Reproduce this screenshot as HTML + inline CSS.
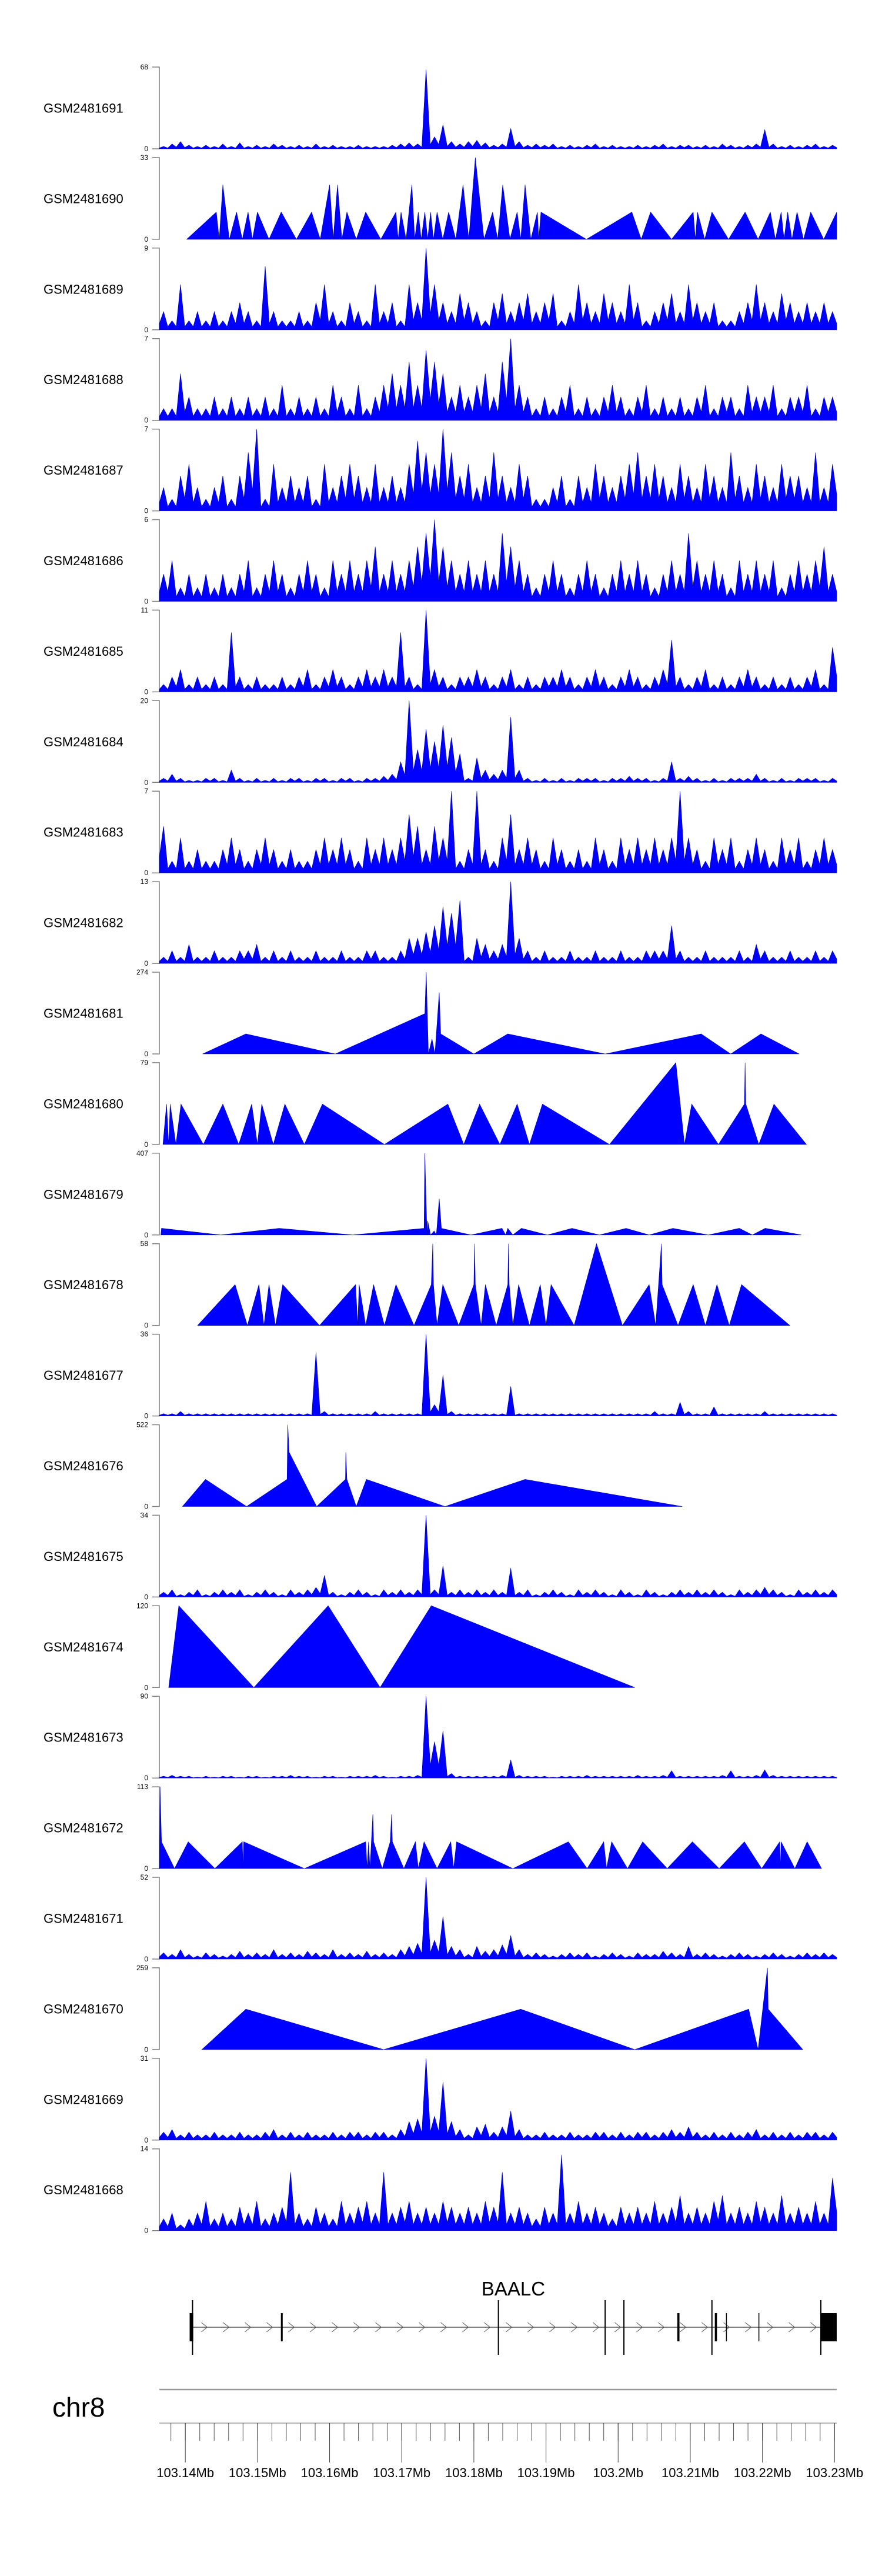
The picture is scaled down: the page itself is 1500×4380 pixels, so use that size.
<!DOCTYPE html>
<html><head><meta charset="utf-8"><title>Coverage tracks BAALC</title>
<style>
html,body{margin:0;padding:0;background:#fff;}
svg{display:block;font-family:"Liberation Sans",Arial,sans-serif;}
</style></head>
<body>
<svg id="chart" width="1500" height="4380" viewBox="0 0 1500 4380" xmlns="http://www.w3.org/2000/svg">
<rect x="0" y="0" width="1500" height="4380" fill="#ffffff"/>
</svg>
<script>
const sampleNames = ["GSM2481691","GSM2481690","GSM2481689","GSM2481688","GSM2481687","GSM2481686","GSM2481685","GSM2481684","GSM2481683","GSM2481682","GSM2481681","GSM2481680","GSM2481679","GSM2481678","GSM2481677","GSM2481676","GSM2481675","GSM2481674","GSM2481673","GSM2481672","GSM2481671","GSM2481670","GSM2481669","GSM2481668"];
const maxValues = [68,33,9,7,7,6,11,20,7,13,274,79,407,58,36,522,34,120,90,113,52,259,31,14];
const regionStartMb = 103.1364;
const regionSpanKb = 93.9;

const t1 = [2,4,6,3,2,3,2,4,2,5,2,3,2,4,3,2,3,2,4,2,3,2,2,3,2,2,2,3,4,5,4,66,10,20,6,4,6,7,5,3,4,17,6,3,4,3,4,2,3,2,3,4,2,3,2,2,3,2,3,4,2,3,3,2,3,2,4,3,2,3,4,16,4,2,3,2,3,4,2,3];
const t2 = [[3.8,0],[7.9,11],[8.3,0],[8.8,22],[9.7,0],[10.7,11],[11.5,0],[12.3,11],[12.9,0],[13.6,11],[15.2,0],[16.9,11],[19.0,0],[21.1,11],[22.3,0],[23.6,22],[24.1,0],[24.7,22],[25.3,0],[26.0,11],[27.3,0],[28.6,11],[30.7,0],[32.8,11],[33.1,0],[33.5,11],[34.2,0],[35.0,22],[35.4,0],[35.9,11],[36.3,0],[36.8,11],[37.2,0],[37.6,11],[38.0,0],[38.5,11],[39.3,0],[40.1,11],[41.1,0],[42.1,22],[42.9,0],[43.8,33],[45.0,0],[46.2,11],[46.9,0],[47.6,22],[48.6,0],[49.6,11],[50.1,0],[50.7,22],[51.5,0],[52.4,11],[52.6,0],[52.9,11],[59.2,0],[65.5,11],[66.8,0],[68.1,11],[71.0,0],[74.0,11],[74.3,0],[74.6,11],[75.6,0],[76.6,11],[78.9,0],[81.2,11],[83.0,0],[84.7,11],[85.4,0],[86.2,11],[86.6,0],[87.1,11],[87.7,0],[88.4,11],[89.3,0],[90.3,11],[92.1,0],[93.9,11],[93.9,0]];
const t3 = [2,1,5,1,2,1,2,1,2,3,2,1,7,2,1,1,2,1,3,5,2,1,3,2,1,5,2,3,1,5,3,9,5,3,2,4,3,2,1,3,4,2,3,4,2,3,4,1,2,5,3,2,4,3,2,5,3,1,2,3,4,2,5,3,2,3,1,1,2,3,5,3,2,4,3,2,3,2,3,2];
const t4 = [1,1,4,2,1,1,2,1,2,1,2,1,2,1,3,1,2,1,2,1,3,2,1,3,1,2,3,4,3,5,3,6,5,4,2,3,2,3,4,2,5,7,3,2,1,2,1,2,3,1,2,1,2,3,2,1,2,3,1,2,1,2,1,2,3,1,2,2,1,3,2,2,3,1,2,2,3,1,2,2];
const t5 = [2,1,3,4,2,1,2,3,1,3,5,7,1,4,2,3,2,3,1,4,2,3,4,3,2,4,2,3,2,4,6,5,4,7,5,3,4,2,3,5,3,2,4,3,1,1,2,3,1,3,2,4,3,2,3,4,5,3,4,3,2,4,3,2,4,3,2,5,3,2,4,3,2,4,3,3,2,5,2,4];
const t6 = [2,3,1,2,1,2,1,2,1,2,3,1,2,3,2,1,2,3,2,1,3,2,3,2,3,4,2,3,2,3,4,5,6,4,3,2,3,2,3,2,5,4,3,2,1,2,3,2,1,2,3,2,1,2,3,2,3,2,1,2,3,2,5,3,2,3,2,1,3,2,3,2,3,1,2,3,2,3,4,2];
const t7 = [1,2,3,1,2,1,2,1,8,2,1,2,1,1,2,1,2,3,1,2,3,2,1,2,3,2,3,2,8,2,1,11,3,2,1,2,2,3,2,1,2,3,1,2,1,2,2,3,2,1,2,3,2,1,2,3,2,1,2,3,7,2,1,2,3,1,2,1,2,3,2,1,2,1,2,1,2,3,1,6];
const t8 = [1,2,1,0.5,0.5,1,1,0.5,3,1,0.5,1,0.5,1,0.5,1,1,0.5,1,1,0.5,1,1,0.5,1,1,1.5,2,5,20,8,13,10,14,11,7,1,6,3,2,3,16,3,1,0.5,1,0.5,1,0.5,1,1,1,0.5,1,1,1.5,1,1,0.5,1,5,1,1.5,1,0.5,1,0.5,1,1,1,2,1,0.5,1,0.5,1,1,1,0.5,1];
const t9 = [4,1,3,1,2,1,1,2,3,2,1,2,3,2,1,2,1,1,2,3,2,3,2,1,3,2,3,2,3,5,4,2,4,3,7,1,2,7,2,1,3,5,2,3,2,1,3,2,1,2,1,3,2,1,3,2,3,2,3,2,3,7,3,2,1,3,2,3,1,2,3,2,1,3,2,3,1,2,3,2];
const t10 = [1,2,1,3,1,1,2,1,1,2,2,3,1,2,1,2,1,1,2,1,1,2,1,1,2,2,1,1,2,4,4,5,6,9,8,10,1,4,3,2,3,13,4,2,1,2,1,1,2,1,1,2,1,1,2,1,1,2,2,2,6,2,1,1,2,1,1,1,2,1,3,2,1,1,2,1,1,2,1,2];
const t11 = [[6.0,0],[12.0,67],[24.4,0],[36.8,135],[37.0,274],[37.3,0],[37.8,50],[38.2,0],[38.8,206],[39.0,67],[43.6,0],[48.3,67],[61.8,0],[75.1,67],[79.2,0],[83.4,67],[88.7,0]];
const t12 = [[0.5,0],[1.0,39],[1.3,0],[1.5,39],[2.3,0],[3.0,39],[6.1,0],[8.8,39],[11.0,0],[12.8,39],[13.6,0],[14.2,39],[15.8,0],[17.4,39],[20.1,0],[22.6,39],[31.2,0],[40.0,39],[42.2,0],[44.4,39],[47.2,0],[49.6,39],[51.3,0],[53.1,39],[62.4,0],[71.6,79],[72.8,0],[73.8,39],[77.5,0],[81.1,39],[81.2,79],[81.3,39],[83.1,0],[85.2,39],[89.7,0]];
const t13 = [[0.2,0],[0.3,33],[8.5,0],[16.6,33],[26.8,0],[36.7,33],[36.8,407],[37.1,0],[37.2,70],[37.6,0],[38.1,20],[38.4,0],[38.8,180],[39.1,33],[43.2,0],[47.5,33],[48.0,0],[48.3,33],[49.0,0],[50.2,33],[53.8,0],[57.2,33],[61.0,0],[64.7,33],[67.9,0],[71.2,33],[76.1,0],[80.4,33],[82.2,0],[84.0,33],[89.0,0]];
const t14 = [[5.3,0],[10.5,29],[12.2,0],[13.8,29],[14.5,0],[15.2,29],[16.1,0],[17.1,29],[22.2,0],[27.2,29],[27.5,0],[27.7,29],[28.6,0],[29.7,29],[31.2,0],[32.8,29],[35.3,0],[37.7,29],[37.9,58],[38.0,29],[38.5,0],[39.3,29],[41.5,0],[43.6,29],[43.7,58],[43.8,29],[44.6,0],[45.2,29],[46.7,0],[48.3,29],[48.4,58],[48.5,29],[49.0,0],[49.8,29],[51.3,0],[52.8,29],[53.6,0],[54.3,29],[57.5,0],[60.6,58],[64.2,0],[67.9,29],[68.8,0],[69.6,58],[69.7,29],[71.9,0],[74.0,29],[75.7,0],[77.3,29],[79.0,0],[80.7,29],[87.4,0]];
const t15 = [1,1,2,1,1,1,1,1,1,1,1,1,1,1,1,1,1,1,28,2,1,1,1,1,1,2,1,1,1,1,1,36,5,18,2,1,1,1,1,1,1,13,1,1,1,1,1,1,1,1,1,1,1,1,1,1,1,1,2,1,1,6,2,1,1,4,1,1,1,1,1,2,1,1,1,1,1,1,1,1];
const t16 = [[3.2,0],[6.4,173],[12.1,0],[17.7,173],[17.8,522],[18.0,346],[21.8,0],[25.8,173],[25.85,346],[26.0,173],[27.3,0],[28.7,173],[39.6,0],[50.7,173],[72.5,0]];
const t17 = [2,3,1,2,3,1,2,3,2,3,1,2,3,2,1,3,2,3,4,9,2,1,2,3,2,1,3,2,3,2,3,34,3,13,2,3,2,3,2,3,2,12,2,3,1,2,3,2,1,3,2,3,2,1,3,2,1,3,2,1,2,3,2,3,2,3,2,1,3,2,3,4,3,2,1,3,2,3,2,3];
const t18 = [[1.3,0],[2.7,120],[13.1,0],[23.4,120],[30.6,0],[37.7,120],[65.9,0]];
const t19 = [2,3,2,2,1,2,1,2,2,1,2,2,1,2,2,3,2,2,1,2,2,1,2,2,2,3,2,1,2,2,3,90,40,52,5,2,2,2,2,2,3,20,3,2,2,2,1,2,2,2,3,2,2,2,2,2,3,2,2,3,8,2,2,2,2,2,3,8,2,2,3,9,3,2,2,2,2,2,2,2];
const t20 = [[0.0,0],[0.1,113],[0.3,37],[2.1,0],[4.0,37],[7.7,0],[11.5,37],[11.6,0],[11.7,37],[20.1,0],[28.6,37],[28.8,0],[29.0,37],[29.2,0],[29.6,75],[29.7,37],[30.9,0],[32.0,37],[32.2,75],[32.3,37],[33.9,0],[35.5,37],[35.9,0],[36.7,37],[38.5,0],[40.4,37],[40.8,0],[41.2,37],[49.0,0],[56.7,37],[59.3,0],[61.6,37],[62.0,0],[62.7,37],[64.9,0],[67.0,37],[70.4,0],[73.9,37],[77.6,0],[81.1,37],[83.5,0],[86.0,37],[86.1,0],[86.2,37],[88.1,0],[89.8,37],[91.8,0]];
const t21 = [4,3,6,3,2,4,3,2,3,5,3,4,3,6,3,4,3,5,4,3,6,3,4,3,5,3,4,3,6,8,10,52,12,27,8,6,3,8,5,6,9,15,6,3,4,3,2,3,4,3,4,2,3,4,3,2,4,3,3,5,4,3,8,3,4,3,2,3,4,3,2,3,4,3,2,3,4,3,4,3];
const t22 = [[5.9,0],[12.0,128],[31.1,0],[50.1,128],[65.9,0],[81.7,128],[83.0,0],[84.3,259],[84.4,128],[89.2,0]];
const t23 = [3,4,2,3,2,2,3,2,2,3,2,2,3,4,2,3,2,3,2,2,3,2,3,3,2,3,3,2,4,7,8,31,9,22,7,4,2,5,6,3,5,11,4,2,2,3,2,2,3,2,2,3,3,2,3,2,3,3,2,3,4,3,5,3,2,3,2,3,2,3,4,2,3,2,3,2,3,3,2,3];
const t24 = [2,3,1,2,3,5,2,3,2,4,3,5,2,3,4,10,3,2,4,3,2,5,3,4,5,3,10,3,4,5,3,4,3,5,4,3,4,3,5,4,10,3,4,3,2,4,3,13,3,5,3,4,3,2,4,3,4,3,5,3,4,6,3,4,3,5,6,3,4,3,5,4,3,6,3,4,3,5,3,9];
const trackSeries = [t1,t2,t3,t4,t5,t6,t7,t8,t9,t10,t11,t12,t13,t14,t15,t16,t17,t18,t19,t20,t21,t22,t23,t24];

const geneName = "BAALC";
const geneStartKb = 4.6;
const geneEndKb = 93.9;
const exonBoxes = [[4.2,4.7],[16.85,17.1],[71.8,72.1],[77.0,77.3],[78.55,78.65],[83.05,83.15],[91.7,93.9]];
const exonTallLines = [4.6,47.0,61.8,64.4,76.6,91.7];
const majorTicksMb = [103.14,103.15,103.16,103.17,103.18,103.19,103.2,103.21,103.22,103.23];
const minorTickStepKb = 2;
const chromName = "chr8";

const NS = "http://www.w3.org/2000/svg";
const svg = document.getElementById('chart');
const PL = 271, PR = 1423, TRACK_H = 139, PITCH = 153.9, FIRST_BOTTOM = 253;
function xs(kb){ return PL + kb / regionSpanKb * (PR - PL); }
function yb(i){ return FIRST_BOTTOM + i * PITCH; }
function ys(i, v){ return yb(i) - v / maxValues[i] * TRACK_H; }
function mk(tag, attrs){ const e = document.createElementNS(NS, tag); for (const k in attrs) e.setAttribute(k, attrs[k]); return e; }

for (let i = 0; i < trackSeries.length; i++) {
  const g = mk('g', {});
  
  
  const b = yb(i), top = b - TRACK_H;
  const lab = mk('text', {x: 74, y: (top + b) / 2 + 8, 'font-size': 22, fill: '#000'});
  lab.textContent = sampleNames[i];
  
  
  g.appendChild(lab);
  const ax = mk('path', {d: `M259 ${top} H${PL} V${b} H259`, fill: 'none', stroke: '#808080', 'stroke-width': 1.5});
  
  
  g.appendChild(ax);
  const tmax = mk('text', {x: 252, y: top + 4, 'font-size': 12, 'text-anchor': 'end', fill: '#000'});
  tmax.textContent = String(maxValues[i]);
  
  
  g.appendChild(tmax);
  const t0 = mk('text', {x: 252, y: b + 4, 'font-size': 12, 'text-anchor': 'end', fill: '#000'});
  t0.textContent = "0";
  
  
  g.appendChild(t0);
  const s = trackSeries[i];
  let pts = [];
  if (Array.isArray(s[0])) {
    pts.push([xs(s[0][0]), b]);
    for (const p of s) pts.push([xs(p[0]), ys(i, p[1])]);
    pts.push([xs(s[s.length - 1][0]), b]);
  } else {
    const n = s.length, w = regionSpanKb / n;
    pts.push([xs(0), b]);
    for (let k = 0; k < n; k++) {
      pts.push([xs(k * w), ys(i, 0.35 * Math.min(s[k], k > 0 ? s[k - 1] : s[k]))]);
      pts.push([xs((k + 0.5) * w), ys(i, s[k])]);
    }
    pts.push([xs(regionSpanKb), ys(i, 0.35 * s[n - 1])]);
    pts.push([xs(regionSpanKb), b]);
  }
  const poly = mk('polygon', {points: pts.map(p => p[0].toFixed(1) + ',' + p[1].toFixed(1)).join(' '), fill: '#0000ff', stroke: '#0000b0', 'stroke-width': 0.6, 'stroke-linejoin': 'miter'});
  
  
  g.appendChild(poly);
  svg.appendChild(g);
}

// gene track
const gg = mk('g', {});


const GY = 3957;
const gl = mk('text', {x: 873, y: 3903, 'font-size': 33, 'text-anchor': 'middle', fill: '#000'});
gl.textContent = geneName;


gg.appendChild(gl);
const il = mk('line', {x1: xs(geneStartKb), x2: xs(geneEndKb), y1: GY, y2: GY, stroke: '#333', 'stroke-width': 1.2});


gg.appendChild(il);
for (let x = xs(geneStartKb) + 20; x < xs(91.7) - 5; x += 37) {
  const c = mk('path', {d: `M${x - 5} ${GY - 8} L${x + 5} ${GY} L${x - 5} ${GY + 8}`, fill: 'none', stroke: '#555', 'stroke-width': 1});
  
  
  gg.appendChild(c);
}
for (const e of exonBoxes) {
  const x1 = xs(e[0]), x2 = xs(e[1]);
  const r = mk('rect', {x: x1, y: 3933, width: Math.max(1.5, x2 - x1), height: 48, fill: '#000'});
  
  
  gg.appendChild(r);
}
for (const t of exonTallLines) {
  const l = mk('line', {x1: xs(t), x2: xs(t), y1: 3911, y2: 4004, stroke: '#000', 'stroke-width': 2});
  
  
  gg.appendChild(l);
}
svg.appendChild(gg);

// genome axis
const ag = mk('g', {});


const sep = mk('line', {x1: PL, x2: PR, y1: 4063, y2: 4063, stroke: '#999', 'stroke-width': 2.5});


ag.appendChild(sep);
const cl = mk('text', {x: 89, y: 4109, 'font-size': 46, fill: '#000'});
cl.textContent = chromName;


ag.appendChild(cl);
const al = mk('line', {x1: PL, x2: PR, y1: 4120, y2: 4120, stroke: '#888', 'stroke-width': 1.2});


ag.appendChild(al);
const startKb = regionStartMb * 1000;
for (let kb = Math.ceil(startKb / minorTickStepKb) * minorTickStepKb; kb <= startKb + regionSpanKb + 1e-6; kb += minorTickStepKb) {
  const x = xs(kb - startKb);
  const l = mk('line', {x1: x, x2: x, y1: 4120, y2: 4150, stroke: '#555', 'stroke-width': 1});
  
  
  ag.appendChild(l);
}
for (const m of majorTicksMb) {
  const x = xs(m * 1000 - startKb);
  const l = mk('line', {x1: x, x2: x, y1: 4120, y2: 4187, stroke: '#444', 'stroke-width': 1});
  
  
  ag.appendChild(l);
  const t = mk('text', {x: x, y: 4212, 'font-size': 22, 'text-anchor': 'middle', fill: '#000'});
  t.textContent = m + 'Mb';
  
  
  ag.appendChild(t);
}
svg.appendChild(ag);
</script>
</body></html>
